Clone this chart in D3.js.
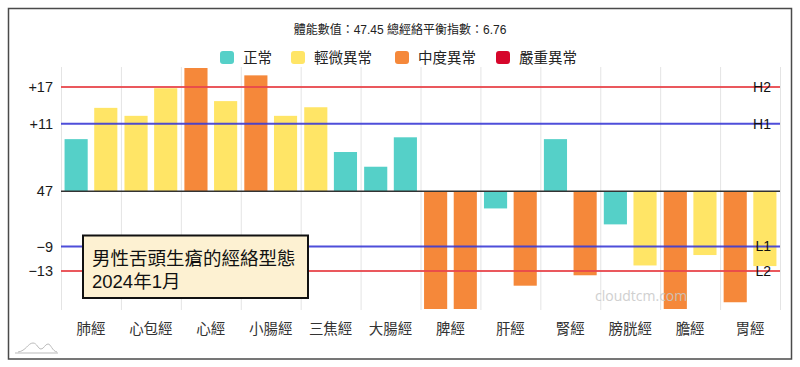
<!DOCTYPE html>
<html>
<head>
<meta charset="utf-8">
<script src="https://cdn.jsdelivr.net/npm/d3@7"></script>
<style>
  html, body { margin: 0; padding: 0; background: #fff; }
  svg { display: block; font-family: "Liberation Sans", "Noto Sans CJK TC", sans-serif; }
</style>
</head>
<body>
<svg id="chart" width="800" height="367"></svg>
<script>
// ---- data ----
const titleText = "體能數值：47.45 總經絡平衡指數：6.76";
const categories = ["肺經", "心包經", "心經", "小腸經", "三焦經", "大腸經", "脾經", "肝經", "腎經", "膀胱經", "膽經", "胃經"];
const leftValues  = [55.5, 59.3, 67.5, 65.9, 60.7, 51.0, 27.5, 44.2, 55.5, 41.6, 27.5, 28.9];
const rightValues = [60.6, 63.8, 61.7, 59.3, 53.4, 55.8, 27.5, 31.6, 33.3, 34.9, 36.6, 34.8];
const leftLevels  = [0, 1, 2, 2, 1, 0, 2, 0, 0, 0, 2, 2];
const rightLevels = [1, 1, 1, 1, 0, 0, 2, 2, 2, 1, 1, 1];
const levelNames  = ["正常", "輕微異常", "中度異常", "嚴重異常"];
const levelColors = ["#55d0c8", "#ffe566", "#f5883a", "#d6062b"];
const baseline = 47;
const thresholdNames   = ["H2", "H1", "L1", "L2"];
const thresholdOffsets = [17, 11, -9, -13];
const thresholdColors  = ["#e8474c", "#3b3bd6", "#3b3bd6", "#e8474c"];
const yTickValues = [64, 58, 47, 38, 34];
const yTickLabels = ["+17", "+11", "47", "−9", "−13"];
const noteLines = ["男性舌頭生瘡的經絡型態", "2024年1月"];
const watermark = "cloudtcm.com";

// ---- layout ----
const svg = d3.select("#chart");
const plot = { left: 61, right: 780, top: 68, bottom: 309 };

svg.append("rect").attr("x", 8.5).attr("y", 8.5).attr("width", 783).attr("height", 350.5)
  .attr("fill", "#fff").attr("stroke", "#4a4a4a").attr("stroke-width", 1.5);

const x = d3.scaleBand().domain(categories).range([plot.left, plot.right]).paddingInner(0).paddingOuter(0);
const side = d3.scaleBand().domain(["L", "R"]).range([0, x.bandwidth()]).paddingInner(0.22).paddingOuter(0.12);
const y = d3.scaleLinear().domain([27.8, 67.1]).range([plot.bottom, plot.top]);

// title
svg.append("text").attr("x", 400).attr("y", 30).attr("text-anchor", "middle")
  .attr("dominant-baseline", "central").attr("font-size", 12).attr("fill", "#222").text(titleText);

// legend
const legendSwatchX = [220, 291, 395, 496];
const legend = svg.append("g");
levelNames.forEach((n, i) => {
  legend.append("rect").attr("x", legendSwatchX[i]).attr("y", 51).attr("width", 14).attr("height", 13)
    .attr("rx", 3).attr("fill", levelColors[i]);
  legend.append("text").attr("x", legendSwatchX[i] + 23).attr("y", 58)
    .attr("dominant-baseline", "central").attr("font-size", 14.5).attr("fill", "#222").text(n);
});

// vertical gridlines
const gridX = categories.map(c => x(c)).concat([plot.right]);
svg.append("g").selectAll("line").data(gridX).join("line")
  .attr("x1", d => d + 0.5).attr("x2", d => d + 0.5).attr("y1", plot.top - 1).attr("y2", plot.bottom + 1)
  .attr("stroke", "#e4e4e4").attr("stroke-width", 1);

// bars
svg.append("defs").append("clipPath").attr("id", "clip").append("rect")
  .attr("x", plot.left).attr("y", plot.top).attr("width", plot.right - plot.left).attr("height", plot.bottom - plot.top);
const bars = [];
categories.forEach((c, i) => {
  bars.push({ c, s: "L", v: leftValues[i], l: leftLevels[i] });
  bars.push({ c, s: "R", v: rightValues[i], l: rightLevels[i] });
});
svg.append("g").attr("clip-path", "url(#clip)").selectAll("rect").data(bars).join("rect")
  .attr("x", d => x(d.c) + side(d.s))
  .attr("width", side.bandwidth())
  .attr("y", d => Math.min(y(d.v), y(baseline)))
  .attr("height", d => Math.abs(y(d.v) - y(baseline)))
  .attr("fill", d => levelColors[d.l]);

// threshold lines
thresholdOffsets.forEach((o, i) => {
  svg.append("line").attr("x1", plot.left).attr("x2", plot.right)
    .attr("y1", y(baseline + o)).attr("y2", y(baseline + o))
    .attr("stroke", thresholdColors[i]).attr("stroke-width", 2).attr("opacity", 0.9);
});
// baseline
svg.append("line").attr("x1", plot.left).attr("x2", plot.right)
  .attr("y1", y(baseline)).attr("y2", y(baseline)).attr("stroke", "#333").attr("stroke-width", 1.5);

// threshold labels
thresholdOffsets.forEach((o, i) => {
  svg.append("text").attr("x", 771).attr("y", y(baseline + o)).attr("text-anchor", "end")
    .attr("dominant-baseline", "central").attr("font-size", 14).attr("fill", "#111").text(thresholdNames[i]);
});

// y axis
const yAxis = d3.axisLeft(y).tickValues(yTickValues).tickFormat((d, i) => yTickLabels[i]).tickSize(0).tickPadding(8);
const gy = svg.append("g").attr("transform", `translate(${plot.left},0)`).call(yAxis);
gy.select(".domain").remove();
gy.selectAll("text").attr("font-size", 14.5).attr("fill", "#1a1a1a")
  .attr("font-family", "'Liberation Sans', 'Noto Sans CJK TC', sans-serif");

// x axis
const xAxis = d3.axisBottom(x).tickSize(0).tickPadding(0);
const gx = svg.append("g").attr("transform", `translate(0,${plot.bottom})`).call(xAxis);
gx.select(".domain").remove();
gx.selectAll("text").attr("font-size", 14.5).attr("fill", "#333").attr("dy", null)
  .attr("y", 18).attr("dominant-baseline", "central")
  .attr("font-family", "'Noto Sans CJK TC', sans-serif");

// annotation box
svg.append("rect").attr("x", 83).attr("y", 235.5).attr("width", 225).attr("height", 62.5)
  .attr("fill", "#fdf1d2").attr("stroke", "#111").attr("stroke-width", 2);
noteLines.forEach((t, i) => {
  svg.append("text").attr("x", 92).attr("y", 258 + i * 23.5).attr("dominant-baseline", "central")
    .attr("font-size", 18.5).attr("fill", "#111").text(t);
});

// watermark
svg.append("text").attr("x", 595).attr("y", 295).attr("dominant-baseline", "central")
  .attr("font-size", 14).attr("fill", "#c8c8c8").attr("opacity", 0.85)
  .attr("font-family", "'Open Sans', sans-serif").text(watermark);

// small logo bottom-left
const logo = svg.append("g").attr("fill", "none").attr("stroke", "#bbb").attr("stroke-width", 1);
logo.append("path").attr("d", "M15,353 L58,353");
logo.append("path").attr("d", "M18,352 C26,351 28,343 33,343 C37,343 38,349 41,349 C44,349 45,344 48,344 C51,344 52,351 57,352");
</script>
</body>
</html>
